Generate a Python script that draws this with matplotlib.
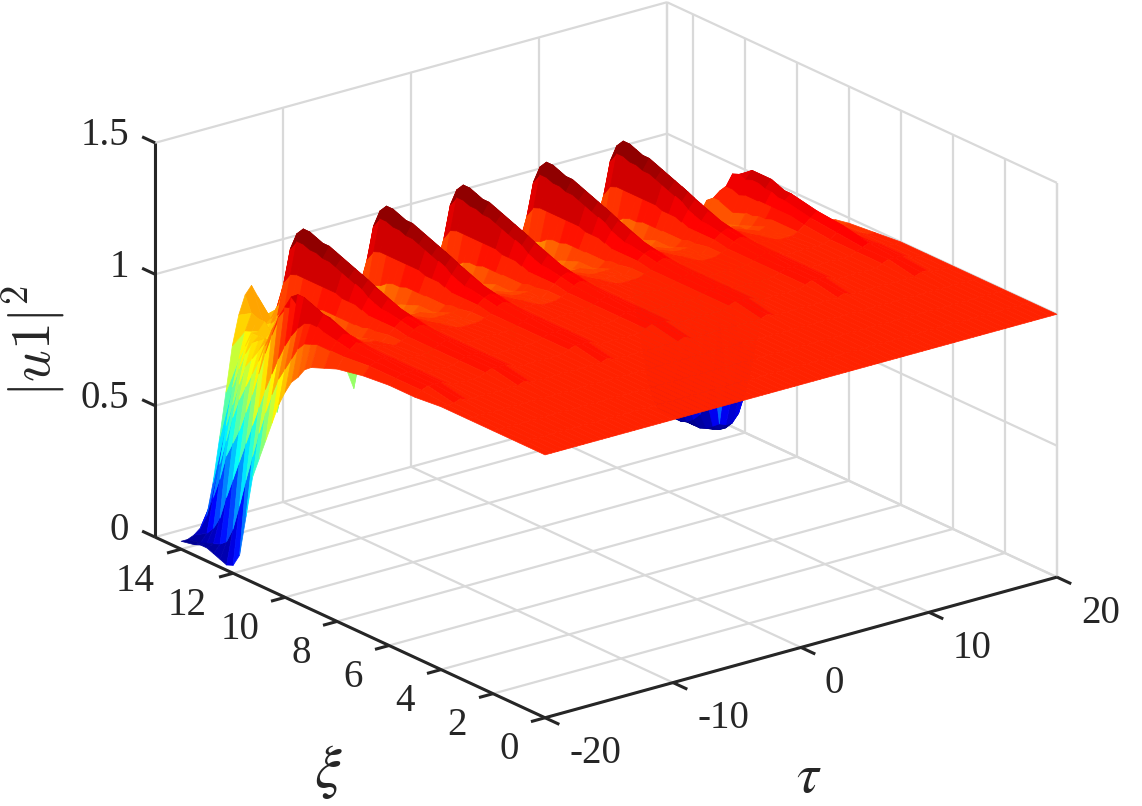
import numpy as np
import matplotlib
matplotlib.use("Agg")
import matplotlib.pyplot as plt
from matplotlib.colors import LinearSegmentedColormap, Normalize
from mpl_toolkits.mplot3d import proj3d

plt.rcParams['font.family'] = ['Liberation Serif', 'DejaVu Serif']

# intensity |u1|^2 in hundredths, one row per xi, one column per tau
tau_values = np.arange(-20, 20.5, 0.5)
xi_values = [0, 1, 2, 3, 4, 5, 6, 7, 8, 8.5, 9, 9.25, 9.5, 9.75, 10, 10.25, 10.5, 10.75, 11, 11.25,
             11.5, 11.75, 12, 12.25, 12.5, 12.75, 13, 13.25, 13.5, 14]
z_rows = [
    [100]*81,
    [100]*81,
    [100]*81,
    [100]*81,
    [100,100,100,101,100,100,100,100,100,100,100,100,100, 101,
     100,100,100,100,100,100,100,100,100,100,100,100, 101,
     100,100,100,100,100,100,100,100,100,100,100, 101,
     100,100,100,100,100,100,100,100,100,100,100,100, 101,
     100,100,100,100,100,100,100,100,100,100,100, 101,
     100,100,100,100,100,100,100,100,100,100,100, 101,
     101,100,100,100,100],
    [99,101,102,102,102,101,100,100,100,100,100,101,102, 102,
     102,101,100,100,100,100,100,100,100,100,101,102, 102,
     102,101,100,100,100,100,100,100,100,101,102, 102,
     102,101,100,100,100,100,100,100,100,100,101,102, 102,
     102,101,100,100,100,100,100,100,100,101,102, 102,
     102,101,100,100,100,100,100,100,100,101,102, 102,
     102,101,100,100,100],
    [99,101,102,102,102,101,100,100,100,100,100,101,102, 102,
     102,101,100,100,100,100,100,100,100,100,101,102, 102,
     102,101,100,100,100,100,100,100,100,101,102, 102,
     102,101,100,100,100,100,100,100,100,100,101,102, 102,
     102,101,100,100,100,100,100,100,100,101,102, 102,
     102,101,100,100,100,100,100,100,100,101,102, 103,
     102,101,100,100,100],
    [98,101,102,103,102,101,100,100,100,100,100,101,102, 103,
     102,101,100,100,100,100,100,100,100,100,101,102, 103,
     102,101,100,100,100,100,100,100,100,101,102, 103,
     102,101,100,100,100,100,100,100,100,100,101,102, 103,
     102,101,100,100,100,100,100,100,100,101,102, 103,
     102,101,100,100,100,100,100,100,100,101,103, 105,
     102,100,100,99,99],
    [96,100,102,104,103,101,100,100,100,99,100,101,103, 104,
     103,101,100,100,100,99,99,99,99,100,101,103, 104,
     103,101,100,100,100,99,99,99,100,101,103, 104,
     103,101,100,100,100,99,99,99,99,100,101,103, 104,
     103,101,100,100,100,99,99,99,100,101,103, 104,
     103,101,100,100,100,99,99,99,100,102,104, 106,
     102,100,99,98,98],
    [94,100,103,105,104,102,100,99,99,98,100,102,104, 105,
     104,102,100,100,99,99,99,99,98,100,102,104, 105,
     104,102,100,100,99,99,99,98,100,102,104, 105,
     104,102,100,100,99,99,99,99,98,100,102,104, 105,
     104,102,100,100,99,99,99,98,100,102,104, 105,
     104,102,100,100,99,99,98,98,100,103,105, 107,
     103,100,98,97,97],
    [92,100,104,108,106,102,100,98,97,97,99,102,105, 107,
     105,102,100,99,98,98,98,98,98,99,102,105, 107,
     105,102,100,99,98,98,98,98,99,102,105, 107,
     105,102,100,99,98,98,98,98,98,99,102,105, 107,
     105,102,100,99,98,98,98,98,99,102,105, 107,
     105,102,100,99,98,98,97,98,100,103,106, 108,
     104,100,98,96,95],
    [90,99,105,109,107,103,100,97,96,96,99,102,105, 108,
     106,103,100,98,98,97,97,97,97,99,102,105, 108,
     106,103,100,98,98,97,97,97,99,102,105, 108,
     106,103,100,98,98,97,97,97,97,99,102,105, 108,
     106,103,100,98,98,97,97,97,99,102,105, 108,
     106,103,100,98,98,97,96,97,99,103,106, 108,
     105,100,97,95,94],
    [86,98,105,110,107,103,99,96,95,95,98,102,106, 109,
     107,103,99,98,97,97,97,96,96,98,102,106, 109,
     107,103,99,98,97,97,96,96,98,102,106, 109,
     107,103,99,98,97,97,97,96,96,98,102,106, 109,
     107,103,99,98,97,97,96,96,98,102,106, 109,
     107,103,99,98,97,97,95,96,99,103,107, 109,
     105,100,97,94,93],
    [83,95,104,111,108,102,98,95,94,94,98,103,107, 110,
     108,103,99,97,96,96,96,95,95,98,103,107, 110,
     108,103,99,97,96,96,95,95,98,103,107, 110,
     108,103,99,97,96,96,96,95,95,98,103,107, 110,
     108,103,99,97,96,96,95,95,98,103,107, 110,
     108,103,99,97,96,96,94,95,98,103,107, 110,
     105,100,96,92,91],
    [78,90,101,112,108,102,97,94,93,93,98,104,109, 112,
     109,103,98,96,95,94,94,94,95,98,104,109, 112,
     109,103,98,96,95,94,94,95,98,104,109, 112,
     109,103,98,96,95,94,94,94,95,98,104,109, 112,
     109,103,98,96,95,94,94,95,98,104,109, 112,
     109,103,98,96,95,94,93,94,98,103,108, 110,
     105,99,94,90,88],
    [72,85,97,112,107,101,96,93,92,92,98,104,110, 113,
     110,103,98,95,94,93,93,93,95,98,104,110, 113,
     110,103,98,95,94,93,93,95,98,104,110, 113,
     110,103,98,95,94,93,93,93,95,98,104,110, 113,
     110,103,98,95,94,93,93,95,98,104,110, 113,
     110,103,98,95,94,93,92,93,97,103,108, 110,
     105,98,92,88,85],
    [64,80,92,110,106,101,96,92,90,90,98,104,111, 114,
     110,103,97,94,93,92,92,92,94,98,104,111, 114,
     110,103,97,94,93,92,92,94,98,104,111, 114,
     110,103,97,94,93,92,92,92,94,98,104,111, 114,
     110,103,97,94,93,92,92,94,98,104,111, 114,
     110,103,97,94,93,92,91,92,96,102,107, 110,
     104,97,90,84,80],
    [56,73,86,105,104,100,95,90,88,88,98,105,112, 115,
     111,103,96,93,91,90,90,90,93,98,105,112, 115,
     111,103,96,93,91,90,90,93,98,105,112, 115,
     111,103,96,93,91,90,90,90,93,98,105,112, 115,
     111,103,96,93,91,90,90,93,98,105,112, 115,
     111,103,96,93,91,90,91,92,97,103,108, 108,
     100,93,86,79,74],
    [48,65,79,100,102,100,94,89,86,87,98,105,113, 116,
     111,102,95,91,89,88,88,88,92,98,105,113, 116,
     111,102,95,91,89,88,88,92,98,105,113, 116,
     111,102,95,91,89,88,88,88,92,98,105,113, 116,
     111,102,95,91,89,88,88,92,98,105,113, 116,
     111,102,95,91,89,88,90,92,98,103,107, 105,
     95,88,80,72,65],
    [40,56,72,92,97,96,91,85,83,85,97,105,114, 117,
     112,102,94,89,86,85,85,85,91,97,105,114, 117,
     112,102,94,89,86,85,85,91,97,105,114, 117,
     112,102,94,89,86,85,85,85,91,97,105,114, 117,
     112,102,94,89,86,85,85,91,97,105,114, 117,
     112,102,94,89,86,85,90,93,98,100,100, 94,
     78,68,60,56,54],
    [24,46,64,84,92,92,88,82,80,84,97,105,114, 118,
     112,101,93,87,84,82,82,82,89,97,105,114, 118,
     112,101,93,87,84,82,82,89,97,105,114, 118,
     112,101,93,87,84,82,82,82,89,97,105,114, 118,
     112,101,93,87,84,82,82,89,97,105,114, 118,
     112,101,93,87,84,82,88,92,96,90,86, 78,
     55,42,35,36,40],
    [8,36,56,75,85,88,86,81,79,84,96,105,115, 118,
     113,100,91,85,80,78,78,78,86,96,105,115, 118,
     113,100,91,85,80,78,78,86,96,105,115, 118,
     113,100,91,85,80,78,78,78,86,96,105,115, 118,
     113,100,91,85,80,78,78,86,96,105,115, 118,
     113,100,91,85,80,78,84,85,85,78,68, 52,
     26,18,15,18,26],
    [3,25,48,66,78,84,84,80,78,84,94,105,115, 119,
     113,99,89,82,77,74,74,74,83,94,105,115, 119,
     113,99,89,82,77,74,74,83,94,105,115, 119,
     113,99,89,82,77,74,74,74,83,94,105,115, 119,
     113,99,89,82,77,74,74,83,94,105,115, 119,
     113,99,89,82,77,74,78,75,72,62,48, 28,
     6,5,5,8,15],
    [2,15,40,58,72,80,84,82,78,82,93,105,116, 120,
     113,98,87,79,74,71,71,71,81,93,105,116, 120,
     113,98,87,79,74,71,71,81,93,105,116, 120,
     113,98,87,79,74,71,71,71,81,93,105,116, 120,
     113,98,87,79,74,71,71,81,93,105,116, 120,
     113,98,87,79,74,71,72,68,62,48,32, 15,
     4,2,2,4,9],
    [3,9,32,50,66,76,82,82,78,82,91,104,116, 120,
     112,96,84,76,71,68,68,68,79,91,104,116, 120,
     112,96,84,76,71,68,68,79,91,104,116, 120,
     112,96,84,76,71,68,68,68,79,91,104,116, 120,
     112,96,84,76,71,68,68,79,91,104,116, 120,
     112,96,84,76,71,68,66,60,52,38,22, 8,
     2,1,1,2,3],
    [4,7,24,44,60,72,80,82,80,82,88,100,112, 117,
     110,93,81,73,68,66,66,66,76,88,100,112, 117,
     110,93,81,73,68,66,66,76,88,100,112, 117,
     110,93,81,73,68,66,66,66,76,88,100,112, 117,
     110,93,81,73,68,66,66,76,88,100,112, 117,
     110,93,81,73,68,66,60,54,44,30,14, 5,
     1,1,1,1,1],
    [5,6,15,38,52,64,75,82,82,85,80,85,97, 109,
     102,89,77,70,66,65,65,65,72,80,85,97, 109,
     102,89,77,70,66,65,65,72,80,85,97, 109,
     102,89,77,70,66,65,65,65,72,80,85,97, 109,
     102,89,77,70,66,65,65,72,80,85,97, 109,
     102,89,77,70,66,65,55,48,38,22,8, 3,
     1,1,1,1,1],
    [5,5,10,28,42,55,68,76,81,85,78,82,88, 96,
     90,78,70,68,68,68,68,68,74,78,82,88, 96,
     90,78,70,68,68,68,68,74,78,82,88, 96,
     90,78,70,68,68,68,68,68,74,78,82,88, 96,
     90,78,70,68,68,68,68,74,78,82,88, 96,
     90,78,70,68,68,68,50,42,30,14,5, 2,
     1,1,1,1,1],
    [4,4,7,20,32,46,60,70,80,86,78,80,82, 85,
     76,66,62,66,70,74,74,74,76,78,80,82, 85,
     76,66,62,66,70,74,74,76,78,80,82, 85,
     76,66,62,66,70,74,74,74,76,78,80,82, 85,
     76,66,62,66,70,74,74,76,78,80,82, 85,
     76,66,62,66,70,70,60,45,30,15,5, 2,
     1,1,1,1,1],
    [3,3,4,6,10,22,38,55,72,83,90,93,88, 80,
     62,42,55,68,78,84,88,90,92,93,93,72, 50,
     43,55,68,78,84,88,90,92,93,93,72, 50,
     43,55,68,78,84,88,90,91,92,93,93,72, 50,
     43,55,68,78,84,88,90,92,93,93,72, 50,
     43,55,68,78,84,70,60,45,30,15,6, 2,
     1,1,1,1,2],
]

tau_ticks = [-20, -10, 0, 10, 20]
xi_ticks = [0, 2, 4, 6, 8, 10, 12, 14]
z_ticks = [0, 0.5, 1, 1.5]
z_tick_labels = ['0', '0.5', '1', '1.5']

tau_lim = (-20, 20)
xi_lim = (0, 15)
z_lim = (0, 1.5)

GRID = '#d9d9d9'
DARK = '#262626'

# jet with the classic matlab breakpoints, 64 levels
jet64 = LinearSegmentedColormap.from_list('jet64', [
    (0.0, (0, 0, 0.5)), (0.125, (0, 0, 1)), (0.375, (0, 1, 1)),
    (0.625, (1, 1, 0)), (0.875, (1, 0, 0)), (1.0, (0.5, 0, 0))], N=64)

fig = plt.figure(figsize=(11.42, 8.06), dpi=100)
# axes is made much larger than the figure so nothing gets clipped
S = 1300
ax = fig.add_axes([(606 - 0.5135*S)/1142, (446 - 0.5135*S)/806, S/1142, S/806], projection='3d')
ax.set_proj_type('ortho')
ax.view_init(elev=20.9, azim=-127.6)
ax.set_box_aspect((646, 639, 422), zoom=972.7/S)
ax.set_xlim(*tau_lim)
ax.set_ylim(*xi_lim)
ax.set_zlim(*z_lim)
ax.set_axis_off()
ax.computed_zorder = False


def line(xs, ys, zs, color=GRID, lw=1.6, z=1):
    ax.plot(xs, ys, zs, color=color, lw=lw, zorder=z, solid_capstyle='butt')


t0, t1 = tau_lim
x0, x1 = xi_lim
z0, z1 = z_lim

# grid on the floor and the two back walls
for t in tau_ticks:
    line([t, t], [x0, x1], [z0, z0])
    line([t, t], [x1, x1], [z0, z1])
for x in xi_ticks:
    line([t0, t1], [x, x], [z0, z0])
    line([t1, t1], [x, x], [z0, z1])
for zt in z_ticks:
    line([t0, t1], [x1, x1], [zt, zt])
    line([t1, t1], [x0, x1], [zt, zt])
line([t1, t1], [x0, x0], [z0, z1])
line([t1, t1], [x1, x1], [z0, z1])

# the surface itself
T, X = np.meshgrid(tau_values, xi_values)
Z = np.array(z_rows) / 100
surf = ax.plot_surface(T, X, Z, rstride=1, cstride=1, cmap=jet64,
                       norm=Normalize(0, 1.2), linewidth=0.5,
                       antialiased=True, shade=False, zorder=2)
surf.set_edgecolor('face')

# dark axis lines with ticks
line([t0, t1], [x0, x0], [z0, z0], DARK, 2.2, 3)
line([t0, t0], [x0, x1], [z0, z0], DARK, 2.2, 3)
line([t0, t0], [x1, x1], [z0, z1], DARK, 2.2, 3)
for t in tau_ticks:
    line([t, t], [x0, x0 - 0.55], [z0, z0], DARK, 2.2, 3)
for x in xi_ticks:
    line([t0, t0 - 1.1], [x, x], [z0, z0], DARK, 2.2, 3)
for zt in z_ticks:
    line([t0, t0], [x1, x1 + 0.5], [zt, zt], DARK, 2.2, 3)


def label(x, y, z, s, dx, dy, size=28, **kw):
    px, py, _ = proj3d.proj_transform(x, y, z, ax.get_proj())
    ax.annotate(s, (px, py), xytext=(dx, dy), textcoords='offset pixels',
                fontsize=size, color=DARK, va='center', **kw)


for t in tau_ticks:
    label(t, x0, z0, str(t), 24, -36, ha='left')
for x in xi_ticks:
    label(t0, x, z0, str(x), -26, -32, ha='right')
for zt, s in zip(z_ticks, z_tick_labels):
    label(t0, x1, zt, s, -26, 7, ha='right')

fig.text(328/1142, 1 - 772/806, r'$\xi$', fontsize=43, color=DARK, ha='center', va='center',
         math_fontfamily='stix')
fig.text(809/1142, 1 - 778/806, r'$\tau$', fontsize=40, color=DARK, ha='center', va='center',
         math_fontfamily='stix')
fig.text(34/1142, 1 - 341/806, r'$|u1|^2$', fontsize=40, color=DARK, ha='center', va='center',
         rotation=90, math_fontfamily='cm')

fig.savefig('out.png', dpi=100)
